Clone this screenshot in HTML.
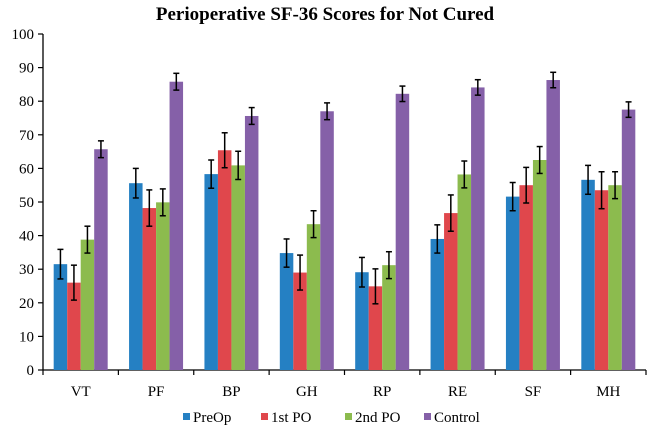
<!DOCTYPE html>
<html><head><meta charset="utf-8"><style>
body{margin:0;background:#fff;}
svg text{font-family:"Liberation Serif",serif;fill:#000;}
</style></head><body>
<svg id="chart" width="650" height="432" xmlns="http://www.w3.org/2000/svg">
<text x="325" y="20" text-anchor="middle" font-size="19" font-weight="bold">Perioperative SF-36 Scores for Not Cured</text>
<g id="axes"></g><g id="bars"></g><g id="legend"></g>
</svg>
<script>
const categories=["VT","PF","BP","GH","RP","RE","SF","MH"];
const seriesNames=["PreOp","1st PO","2nd PO","Control"];
const colors=["#2580c3","#e0474c","#8cbb4e","#8560a8"];
const preOp=[31.5,55.6,58.3,34.8,29.1,39,51.6,56.6];
const firstPO=[26,48.2,65.4,29,24.9,46.7,55,53.5];
const secondPO=[38.8,49.9,60.9,43.4,31.2,58.2,62.5,55];
const control=[65.7,85.8,75.6,77,82.2,84.1,86.3,77.5];
const preOpErr=[4.4,4.4,4.2,4.2,4.4,4.2,4.2,4.3];
const firstPOErr=[5.2,5.4,5.2,5.2,5.2,5.4,5.3,5.5];
const secondPOErr=[4,4,4.2,4,4,4,4,4];
const controlErr=[2.5,2.5,2.5,2.5,2.3,2.3,2.3,2.3];
const yTicks=[0,10,20,30,40,50,60,70,80,90,100];
const NS="http://www.w3.org/2000/svg";
const x0=43,x1=646,y0=370,y1=34;
const yS=v=>y0-(v/100)*(y0-y1);
const cw=(x1-x0)/categories.length;
const xC=i=>x0+cw*(i+0.5);
function mk(t,a,p){const e=document.createElementNS(NS,t);for(const k in a)e.setAttribute(k,a[k]);p.appendChild(e);return e;}
const ax=document.getElementById('axes');
let l=mk('line',{x1:x0,y1:y0,x2:x0,y2:y1,stroke:'#000','stroke-width':1.3},ax);


l=mk('line',{x1:x0,y1:y0,x2:x1,y2:y0,stroke:'#000','stroke-width':1.3},ax);


yTicks.forEach(v=>{
  mk('line',{x1:x0-5,y1:yS(v),x2:x0,y2:yS(v),stroke:'#000','stroke-width':1.2},ax);
  const t=mk('text',{x:x0-9,y:yS(v)+5,'text-anchor':'end','font-size':15},ax);
  t.textContent=v;
  
  
});
for(let i=0;i<=categories.length;i++){mk('line',{x1:x0+cw*i,y1:y0,x2:x0+cw*i,y2:y0+5,stroke:'#000','stroke-width':1.2},ax);}
categories.forEach((c,i)=>{
  const t=mk('text',{x:xC(i),y:396,'text-anchor':'middle','font-size':15},ax);
  t.textContent=c;
  
  
});
const series=[preOp,firstPO,secondPO,control];
const errs=[preOpErr,firstPOErr,secondPOErr,controlErr];
const bg=document.getElementById('bars');
const bw=13.5;
categories.forEach((c,i)=>{
  series.forEach((s,k)=>{
    const bx=xC(i)-2*bw+k*bw;
    const r=mk('rect',{x:bx,y:yS(s[i]),width:bw,height:y0-yS(s[i]),fill:colors[k]},bg);
    
    
    const cx=bx+bw/2,hi=yS(s[i]+errs[k][i]),lo=yS(s[i]-errs[k][i]);
    mk('line',{x1:cx,y1:hi,x2:cx,y2:lo,stroke:'#000','stroke-width':1.5},bg);
    mk('line',{x1:cx-3,y1:hi,x2:cx+3,y2:hi,stroke:'#000','stroke-width':1.5},bg);
    mk('line',{x1:cx-3,y1:lo,x2:cx+3,y2:lo,stroke:'#000','stroke-width':1.5},bg);
  });
});
const lg=document.getElementById('legend');
const lx=[183,261,345,424];
seriesNames.forEach((n,k)=>{
  const g=mk('g',{},lg);
  
  
  mk('rect',{x:lx[k],y:413,width:7,height:7,fill:colors[k]},g);
  const t=mk('text',{x:lx[k]+10,y:422,'font-size':15},g);
  t.textContent=n;
});
</script>
</body></html>
